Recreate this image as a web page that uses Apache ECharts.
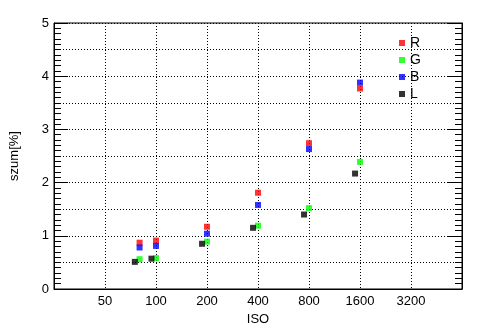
<!DOCTYPE html>
<html>
<head>
<meta charset="utf-8">
<style>html,body{margin:0;padding:0;background:#fff}#c{width:494px;height:331px}</style>
<script src="https://cdn.jsdelivr.net/npm/echarts@6/dist/echarts.min.js"></script>
</head>
<body>
<div id="c"></div>
<script>
// ISO values (x positions) and noise values [%]
var isoRGB = [80, 100, 200, 400, 800, 1600];
var isoL = [75, 94, 187, 374, 748, 1496];
var valR = [0.87, 0.91, 1.17, 1.81, 2.74, 3.77];
var valG = [0.56, 0.58, 0.89, 1.19, 1.52, 2.39];
var valB = [0.78, 0.81, 1.04, 1.58, 2.63, 3.88];
var valL = [0.51, 0.57, 0.85, 1.15, 1.40, 2.17];
var xTickLabels = ['', '50', '100', '200', '400', '800', '1600', '3200', ''];
var ISO_BASE = 25; // left edge of the log2 x axis

function toPts(xs, ys) {
  return xs.map(function (x, i) { return [Math.log2(x / ISO_BASE), ys[i]]; });
}
var font = '"Liberation Sans", Arial, sans-serif';
var dot = [1, 2];
var chart = echarts.init(document.getElementById('c'), null, {renderer: 'canvas'});
function ser(name, color, xs, ys) {
  return {
    name: name, type: 'scatter', symbol: 'rect', symbolSize: 6,
    itemStyle: {color: color}, data: toPts(xs, ys), yAxisIndex: 0, xAxisIndex: 0
  };
}
chart.setOption({
  animation: false,
  backgroundColor: '#fff',
  grid: {left: 49, right: 32, top: 23, bottom: 42, show: true, borderColor: '#000', borderWidth: 1},
  legend: {
    orient: 'vertical', left: 399, top: 36, padding: 0, itemGap: 3,
    itemWidth: 6, itemHeight: 6, icon: 'rect',
    textStyle: {fontFamily: font, fontSize: 14, color: '#000', lineHeight: 14},
    data: ['R', 'G', 'B', 'L']
  },
  xAxis: [{
    type: 'value', min: 0, max: 8, interval: 1,
    name: 'ISO', nameLocation: 'middle', nameGap: 24,
    nameTextStyle: {fontFamily: font, fontSize: 13, color: '#000'},
    axisLine: {show: true, lineStyle: {color: '#000', width: 1}},
    axisTick: {show: false},
    axisLabel: {fontFamily: font, fontSize: 13, color: '#000', margin: 6,
      formatter: function (v) { return xTickLabels[Math.round(v)] || ''; }},
    splitLine: {show: true, lineStyle: {color: '#000', type: dot, width: 1}}
  }],
  yAxis: [{
    type: 'value', min: 0, max: 5, interval: 1, position: 'left',
    name: 'szum[%]', nameLocation: 'middle', nameGap: 33, nameRotate: 90,
    nameTextStyle: {fontFamily: font, fontSize: 13, color: '#000'},
    axisLine: {show: true, lineStyle: {color: '#000', width: 1}},
    axisTick: {show: true, inside: true, length: 14, lineStyle: {color: '#000'}},
    minorTick: {show: true, splitNumber: 10, length: 7, lineStyle: {color: '#000'}},
    axisLabel: {fontFamily: font, fontSize: 13, color: '#000', margin: 5},
    splitLine: {show: false}
  }, {
    type: 'value', min: 0, max: 5, interval: 1, position: 'right',
    axisLine: {show: true, onZero: false, lineStyle: {color: '#000', width: 1}},
    axisTick: {show: true, inside: true, length: 14, lineStyle: {color: '#000'}},
    minorTick: {show: true, splitNumber: 10, length: 7, lineStyle: {color: '#000'}},
    axisLabel: {show: false},
    splitLine: {show: false}
  }, {
    type: 'value', min: 0, max: 5, interval: 0.5, position: 'left',
    axisLine: {show: false}, axisTick: {show: false}, axisLabel: {show: false},
    splitLine: {show: true, lineStyle: {color: '#000', type: dot, width: 1}}
  }],
  series: [
    ser('R', '#ff0000', isoRGB, valR),
    ser('G', '#00ff00', isoRGB, valG),
    ser('B', '#0000ff', isoRGB, valB),
    ser('L', '#000000', isoL, valL)
  ]
});
</script>
</body>
</html>
